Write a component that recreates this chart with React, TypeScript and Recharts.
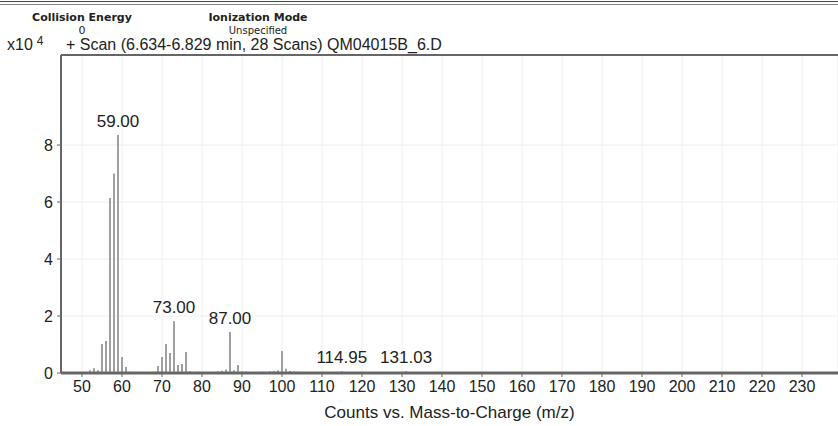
import { BarChart, Bar, XAxis, YAxis, CartesianGrid, ReferenceLine, LabelList, Label } from "recharts";

// m/z values and counts (x10^4)
const MZ = [
  51, 52, 53, 54, 55, 56, 57, 58, 59, 60, 61, 62, 63, 65, 67, 68,
  69, 70, 71, 72, 73, 74, 75, 76, 77, 78, 79, 81, 83, 84, 85, 86,
  87, 88, 89, 90, 91, 93, 95, 97, 98, 99, 100, 101, 102, 103, 104, 105,
  107, 109, 114.95, 117, 121, 131.03,
];
const COUNTS = [
  0.03, 0.1, 0.17, 0.1, 1.02, 1.12, 6.14, 7.0, 8.35, 0.56, 0.21, 0.04, 0.03, 0.02, 0.03, 0.04,
  0.25, 0.56, 1.02, 0.7, 1.82, 0.28, 0.32, 0.74, 0.06, 0.03, 0.04, 0.03, 0.03, 0.05, 0.08, 0.12,
  1.44, 0.1, 0.28, 0.05, 0.04, 0.03, 0.04, 0.05, 0.06, 0.1, 0.77, 0.15, 0.07, 0.05, 0.04, 0.03,
  0.02, 0.02, 0.06, 0.02, 0.02, 0.06,
];
const PEAK_LABELS: Record<string, string> = {
  "59": "59.00",
  "73": "73.00",
  "87": "87.00",
  "114.95": "114.95",
  "131.03": "131.03",
};
const X_TICKS = [50, 60, 70, 80, 90, 100, 110, 120, 130, 140, 150, 160, 170, 180, 190, 200, 210, 220, 230];
const Y_TICKS = [0, 2, 4, 6, 8];
const Y_MAX = 11.16;

const data = MZ.map((mz, i) => ({
  mz,
  counts: COUNTS[i],
  label: PEAK_LABELS[String(mz)] ?? "",
}));

const font = "'Liberation Sans', Arial, sans-serif";
const headFont = "'DejaVu Sans', Verdana, sans-serif";

export default function App() {
  return (
    <div style={{ position: "absolute", left: 0, top: 0, width: 838, height: 426, background: "#fff", fontFamily: font }}>
      <div style={{ position: "absolute", left: 0, top: 1, width: 838, height: 2, borderTop: "1px solid #444", borderBottom: "1px solid #888" }} />
      <div style={{ position: "absolute", left: 17, top: 11, width: 130, textAlign: "center", fontFamily: headFont, fontSize: 11, lineHeight: "13px", color: "#222" }}>
        <div style={{ fontWeight: "bold" }}>Collision Energy</div>
        <div>0</div>
      </div>
      <div style={{ position: "absolute", left: 193, top: 11, width: 130, textAlign: "center", fontFamily: headFont, fontSize: 11, lineHeight: "13px", color: "#222" }}>
        <div style={{ fontWeight: "bold" }}>Ionization Mode</div>
        <div style={{ fontSize: 10 }}>Unspecified</div>
      </div>
      <div style={{ position: "absolute", left: 7, top: 37, fontSize: 16, lineHeight: "16px", color: "#222" }}>
        x10<span style={{ fontSize: 12, position: "relative", top: -5, marginLeft: 4 }}>4</span>
      </div>
      <div style={{ position: "absolute", left: 66, top: 37, fontSize: 16, lineHeight: "16px", color: "#222", zIndex: 2 }}>
        + Scan (6.634-6.829 min, 28 Scans) QM04015B_6.D
      </div>
      <BarChart width={838} height={426} data={data} margin={{ top: 55, right: 0, bottom: 0, left: 0 }}>
        <CartesianGrid stroke="#efefef" vertical horizontal />
        <XAxis
          dataKey="mz"
          type="number"
          domain={[44.75, 239]}
          ticks={X_TICKS}
          interval={0}
          height={53}
          axisLine={{ stroke: "#666", strokeWidth: 3 }}
          tickLine={{ stroke: "#666" }}
          tickSize={4}
          tickMargin={4}
          tick={{ fontSize: 16, fill: "#222", fontFamily: font }}
          allowDataOverflow
        >
          <Label value="Counts vs. Mass-to-Charge (m/z)" position="insideBottom" offset={8} style={{ fontSize: 17, fill: "#222", fontFamily: font }} />
        </XAxis>
        <YAxis
          type="number"
          domain={[0, Y_MAX]}
          ticks={Y_TICKS}
          width={61}
          axisLine={{ stroke: "#666", strokeWidth: 2 }}
          tickLine={{ stroke: "#666" }}
          tickSize={4}
          tickMargin={4}
          tick={{ fontSize: 16, fill: "#222", fontFamily: font }}
          allowDataOverflow
        />
        <ReferenceLine y={Y_MAX} stroke="#666" strokeWidth={2} />
        <Bar dataKey="counts" fill="#a0a0a0" barSize={2} isAnimationActive={false}>
          <LabelList
            dataKey="label"
            content={(props: any) => {
              const { x, y, width, value } = props;
              if (!value) return null;
              return (
                <text x={x + width / 2} y={y - 8} textAnchor="middle" fontSize={17} fill="#222" fontFamily={font}>
                  {value}
                </text>
              );
            }}
          />
        </Bar>
      </BarChart>
    </div>
  );
}
